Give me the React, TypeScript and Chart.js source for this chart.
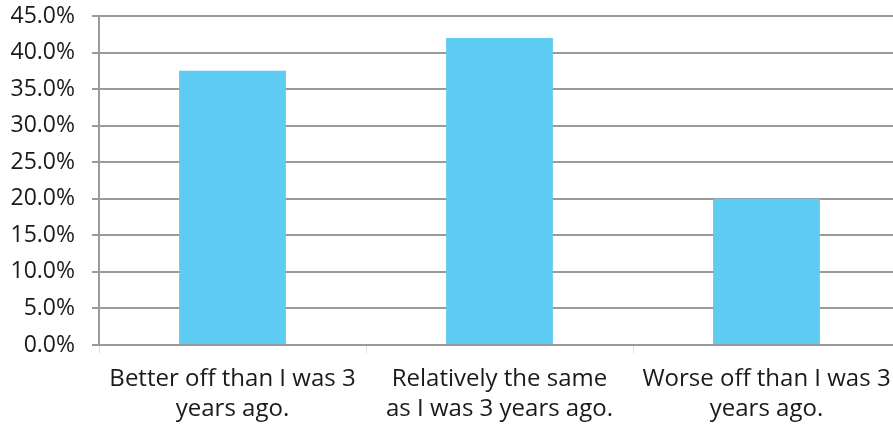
import React, { useEffect, useRef } from "react";
import { Chart, registerables } from "chart.js";

Chart.register(...registerables);

const categories: string[][] = [
  ["Better off than I was 3", "years ago."],
  ["Relatively the same", "as I was 3 years ago."],
  ["Worse off than I was 3", "years ago."],
];
const values: number[] = [37.5, 42.0, 20.0];
const yMin = 0;
const yMax = 45;
const yStep = 5;

const FONT = "'Open Sans', 'Noto Sans', sans-serif";

export default function App() {
  const ref = useRef<HTMLCanvasElement | null>(null);

  useEffect(() => {
    document.body.style.margin = "0";
    const canvas = ref.current;
    if (!canvas) return;
    const chart = new Chart(canvas, {
      type: "bar",
      data: {
        labels: categories,
        datasets: [
          {
            data: values,
            backgroundColor: "#5ecbf2",
            borderWidth: 0,
            barPercentage: 0.4,
            categoryPercentage: 1,
          },
        ],
      },
      options: {
        animation: false,
        responsive: false,
        maintainAspectRatio: false,
        layout: { padding: { top: 16, right: 0, left: 0, bottom: 0 } },
        plugins: {
          legend: { display: false },
          tooltip: { enabled: false },
        },
        scales: {
          x: {
            afterFit: (scale: any) => {
              scale.height = 83;
              scale.paddingLeft = 0;
              scale.paddingRight = 0;
            },
            grid: {
              drawOnChartArea: false,
              drawTicks: true,
              tickLength: 8,
              tickColor: "#dddddd",
              lineWidth: 1,
            },
            border: { display: true, color: "#9a9a9a", width: 2 },
            ticks: {
              color: "#1a1a1a",
              font: { family: FONT, size: 24, lineHeight: 1.25 },
              padding: 11,
              maxRotation: 0,
              autoSkip: false,
            },
          },
          y: {
            min: yMin,
            max: yMax,
            afterFit: (scale: any) => {
              scale.width = 99;
              scale.paddingTop = 0;
              scale.paddingBottom = 0;
            },
            grid: {
              color: "#9a9a9a",
              lineWidth: 2,
              tickLength: 7,
              drawTicks: true,
            },
            border: { display: true, color: "#9a9a9a", width: 2 },
            ticks: {
              stepSize: yStep,
              color: "#1a1a1a",
              font: { family: FONT, size: 23 },
              padding: 17,
              callback: (v: any) => Number(v).toFixed(1) + "%",
            },
          },
        },
      },
    });
    return () => chart.destroy();
  }, []);

  return (
    <div style={{ position: "absolute", left: 0, top: 0, width: 893, height: 428, overflow: "hidden" }}>
      <canvas ref={ref} width={900} height={428} style={{ width: 900, height: 428 }} />
    </div>
  );
}
